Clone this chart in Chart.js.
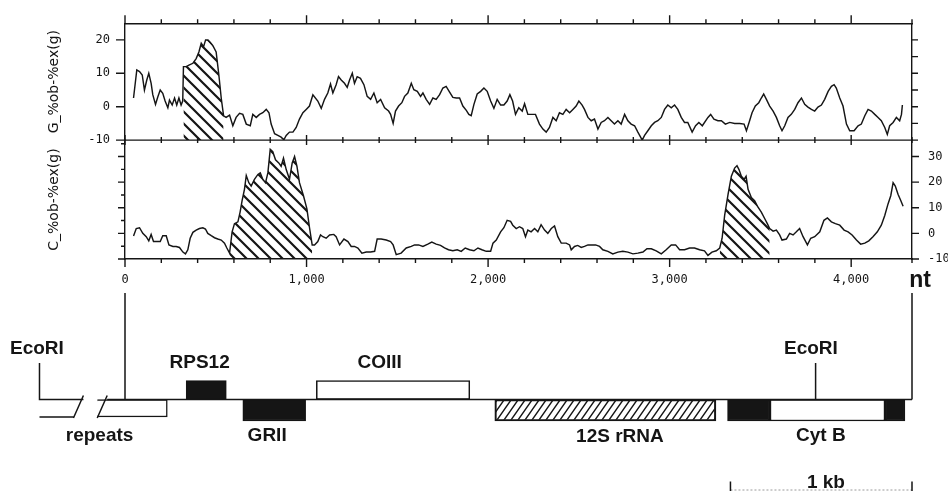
<!DOCTYPE html>
<html>
<head>
<meta charset="utf-8">
<title>Skew profile and gene map</title>
<script src="https://cdn.jsdelivr.net/npm/chart.js@4.4.1/dist/chart.umd.min.js"></script>
<style>
  html, body { margin: 0; padding: 0; background: #fff; }
  #wrap { position: relative; width: 948px; height: 491px; overflow: hidden; background: #fff; }
  #wrap canvas { position: absolute; left: 0; top: 0; }
</style>
</head>
<body>
<div id="wrap">
  <canvas id="profile" width="948" height="300"></canvas>
  <canvas id="map" width="948" height="491"></canvas>
</div>
<script>
const INK = '#151515';
const MONO = "'DejaVu Sans Mono', monospace";
const SANS = "'DejaVu Sans', sans-serif";
const BOLD = "'Liberation Sans', Arial, sans-serif";

// nucleotide axis
const X_MAX = 4335;
const xTickValues = [0, 1000, 2000, 3000, 4000];
const xTickLabels = ['0', '1,000', '2,000', '3,000', '4,000'];

// G_%ob-%ex(g)
const gPos = [
  47, 65, 80, 95, 107, 120, 131, 144, 153, 168,
  181, 194, 208, 221, 236, 245, 260, 273, 285, 297,
  309, 318, 322, 337, 355, 374, 392, 407, 420, 433,
  444, 457, 469, 484, 502, 517, 530, 543, 557, 576,
  594, 612, 631, 649, 668, 690, 704, 723, 741, 759,
  778, 793, 805, 824, 842, 860, 875, 888, 906, 925,
  943, 961, 980, 998, 1016, 1035, 1062, 1081, 1099, 1117,
  1132, 1145, 1163, 1176, 1191, 1209, 1224, 1237, 1252, 1264,
  1279, 1297, 1316, 1334, 1353, 1371, 1389, 1408, 1430, 1452,
  1463, 1477, 1490, 1507, 1525, 1540, 1558, 1577, 1591, 1610,
  1628, 1641, 1659, 1678, 1696, 1714, 1733, 1751, 1769, 1788,
  1806, 1825, 1843, 1861, 1880, 1894, 1907, 1922, 1940, 1959,
  1977, 1995, 2014, 2032, 2050, 2069, 2087, 2105, 2120, 2135,
  2151, 2169, 2188, 2201, 2219, 2243, 2261, 2283, 2302, 2320,
  2338, 2357, 2375, 2393, 2412, 2430, 2449, 2467, 2485, 2500,
  2518, 2531, 2550, 2568, 2586, 2605, 2623, 2641, 2660, 2678,
  2696, 2715, 2733, 2752, 2770, 2788, 2807, 2825, 2849, 2862,
  2880, 2899, 2917, 2935, 2954, 2972, 2990, 3009, 3027, 3045,
  3064, 3082, 3100, 3124, 3143, 3161, 3180, 3211, 3226, 3244,
  3266, 3285, 3307, 3331, 3358, 3386, 3410, 3423, 3435, 3454,
  3472, 3491, 3505, 3518, 3533, 3551, 3570, 3588, 3606, 3619,
  3634, 3652, 3670, 3689, 3707, 3726, 3744, 3762, 3781, 3799,
  3817, 3836, 3854, 3873, 3891, 3906, 3918, 3937, 3955, 3974,
  3992, 4016, 4038, 4056, 4075, 4093, 4111, 4130, 4148, 4166,
  4185, 4199, 4212, 4231, 4249, 4267, 4277, 4282
];
const gVal = [
  2.6, 11, 10.5, 9.5, 5, 8, 10, 7, 3.6, 0.7,
  3, 5, 4, 1.7, -0.3, 2, 0.5, 2.6, 0.5, 2.6,
  0.5, 1.7, 12, 12, 12.5, 13, 14.4, 16.4, 19, 18,
  20, 20, 19.3, 18.3, 16.4, 9.5, 2.6, -2.7, -3.2, -2.5,
  -5.7, -3.2, -2, -2.3, -5.2, -5.7, -2.3, -3.2, -2.3, -1.8,
  -0.8, -1.8, -5.2, -8.1, -8.6, -9.1, -9.9, -8.6, -7.6, -7.6,
  -6.2, -3.7, -1.8, -0.8, 0.2, 3.6, 1.7, -0.5, 2.2, 4.1,
  6.8, 4.1, 6.6, 9, 8, 7, 5.8, 8, 10, 7,
  9, 8.5, 6.6, 3.1, 2.2, 4.1, 1.2, 2.2, -0.3, -1.3,
  -2.3, -5, -1.3, 0.2, 1.2, 3.1, 4.1, 7, 5.1, 4.6,
  3.1, 4.1, 2.2, 0.7, 2.6, 2.2, 3.6, 5.6, 6.1, 4.4,
  2.8, 2.6, 2.6, 0.2, -1.1, -2.3, -2.7, 0.7, 3.8, 4.6,
  5.6, 4.6, 1.7, -0.5, 2.2, 0.5, 0.5, 1.7, 3.6, 1.7,
  -2.3, -0.3, -1.3, 0.9, -2.3, -2.3, -2.3, -5.2, -6.7, -7.6,
  -6.2, -3.2, -4.2, -1.8, -2.3, -0.8, -1.8, -0.8, 0.2, 1.7,
  0.5, -0.8, -3.2, -4.2, -3.7, -6.7, -4.7, -4.2, -3.2, -4.2,
  -5.2, -4.2, -5.2, -2.3, -4.2, -5.2, -5.7, -7.6, -10, -8.6,
  -7.2, -5.7, -4.7, -4.2, -3.2, -0.8, 0.5, -0.3, 0.5, -0.8,
  -3.2, -4.7, -4.7, -7.6, -5.7, -4.7, -5.7, -3.2, -2.3, -3.7,
  -4.2, -4.2, -5.2, -4.7, -5, -5, -5.2, -7.2, -5.2, -1.8,
  0.2, 1.2, 2.6, 3.8, 2.2, 0.2, -1.3, -3.2, -5.7, -7.2,
  -5.7, -3.2, -2.3, -0.8, 1.2, 2.6, 0.7, -0.1, -0.8, -1.3,
  -0.1, 0.5, 2.2, 4.6, 6.1, 6.6, 5.6, 2.6, 0.2, -5.2,
  -7.2, -7.2, -5.7, -5.2, -2.7, -0.8, -1.3, -2.3, -3.2, -4.2,
  -6.2, -8.3, -5.7, -4.7, -3.2, -4.2, -2.3, 0.5
];

// C_%ob-%ex(g)
const cPos = [
  47, 62, 80, 98, 117, 131, 144, 157, 175, 194,
  208, 227, 242, 264, 282, 300, 319, 333, 346, 359,
  374, 392, 410, 429, 443, 456, 475, 493, 511, 530,
  548, 561, 576, 590, 603, 622, 634, 645, 658, 668,
  682, 695, 713, 732, 745, 759, 774, 787, 800, 814,
  829, 847, 860, 873, 888, 906, 921, 934, 947, 961,
  983, 1002, 1017, 1031, 1044, 1062, 1077, 1090, 1108, 1127,
  1150, 1163, 1182, 1206, 1228, 1246, 1264, 1283, 1305, 1329,
  1353, 1375, 1389, 1411, 1439, 1463, 1477, 1494, 1521, 1549,
  1577, 1595, 1617, 1641, 1668, 1690, 1714, 1738, 1760, 1782,
  1806, 1830, 1852, 1874, 1898, 1922, 1944, 1966, 1990, 2014,
  2027, 2045, 2069, 2087, 2105, 2124, 2136, 2155, 2173, 2191,
  2206, 2219, 2237, 2256, 2274, 2292, 2311, 2329, 2348, 2366,
  2384, 2403, 2430, 2449, 2458, 2476, 2494, 2513, 2531, 2550,
  2568, 2592, 2614, 2632, 2660, 2687, 2715, 2742, 2770, 2798,
  2825, 2853, 2875, 2899, 2926, 2954, 2981, 3009, 3033, 3055,
  3082, 3110, 3137, 3165, 3192, 3211, 3233, 3257, 3276, 3289,
  3303, 3322, 3340, 3358, 3371, 3382, 3395, 3410, 3421, 3432,
  3450, 3468, 3487, 3505, 3524, 3538, 3551, 3570, 3588, 3606,
  3619, 3643, 3661, 3680, 3698, 3716, 3735, 3759, 3777, 3799,
  3827, 3850, 3869, 3891, 3913, 3937, 3961, 3983, 4005, 4029,
  4052, 4075, 4097, 4120, 4144, 4166, 4185, 4203, 4218, 4231,
  4243, 4258, 4273, 4286
];
const cVal = [
  -1, 1.9, 2.2, 0, -1.3, -2.9, -0.4, -3.2, -3.2, -3.2,
  -0.9, -0.9, -4.5, -5.1, -5.1, -5.5, -7.3, -8, -6.4, -1.9,
  0.4, 1.3, 1.9, 2.2, 1.7, 0, -0.9, -1.7, -2.2, -2.6,
  -3.8, -5.7, -7.7, 0.6, 3.8, 4.5, 8.3, 12.8, 17.2, 22.6,
  19.8, 18.5, 21.1, 23, 23.6, 21.1, 19.8, 23.6, 32.8, 31.9,
  28.7, 27.5, 26.2, 29.4, 24.9, 21.1, 27.5, 30, 26.2, 19.8,
  14.7, 9.6, 1.9, -4.5, -4.5, -3.2, -0.6, -1.3, -1.9, -0.6,
  -0.4, -1.3, -4.5, -2.2, -3.2, -5.1, -5.1, -5.7, -7.7, -7.3,
  -7.3, -7, -2.2, -2.2, -2.6, -3.2, -4.5, -8.3, -7.7, -5.7,
  -5.1, -4.5, -4.5, -5.1, -4.2, -3.4, -4.2, -4.7, -5.7, -6.4,
  -6.8, -6.4, -7, -5.7, -6.4, -6.8, -5.7, -6.4, -7, -7,
  -3.8, -2.6, 0.6, 2.2, 5.1, 4.7, 3.2, 1.9, 2.6, 1.9,
  -1.3, 1.3, 0.6, 1.9, 0.6, 3.4, 1.3, 0, 1.9, 2.9,
  -1.3, -3.8, -3.8, -4.5, -6.4, -5.1, -4.7, -5.5, -5.1, -4.5,
  -4.5, -4.5, -5.1, -6.4, -7, -8, -7.3, -7, -7.3, -8,
  -7.7, -7.3, -6, -6, -6.8, -8, -6.4, -4.5, -4.5, -6.4,
  -6.4, -5.7, -5.7, -6.4, -6.8, -8.6, -7.3, -6.8, -5.7, -1.9,
  7, 15.3, 22.3, 25.5, 26.4, 24.9, 22.3, 21.1, 22.3, 17.2,
  14, 12.8, 10.2, 8.3, 5.7, 3.8, 1.9, 0.9, 1.3, -0.6,
  -2.6, -2.2, 0, -0.6, 0.6, 1.9, -1.3, -4.5, -1.9, -1.3,
  0.6, 5.1, 6, 4.5, 3.8, 3.2, 1.3, 0.6, -0.6, -2.6,
  -4.2, -3.8, -2.9, -1.3, 0.6, 3.2, 7, 11.5, 14.7, 19.8,
  18.5, 15.3, 12.8, 10.6
];

// shaded stretches (nt)
const gHatch = [[322, 543]];
const cHatch = [[576, 1031], [3276, 3551]];

// gene map (nt); strand 1 = above the line, -1 = below
const geneStart  = [337, 649, 1054, 2037, 3319, 3553, 4186];
const geneEnd    = [558, 995, 1899, 3255, 3553, 4186, 4296];
const geneStrand = [1, -1, 1, -1, -1, -1, -1];
const geneKind   = ['dark', 'dark', 'open', 'rRNA', 'dark', 'open', 'dark'];
const repeatSpan = [-153, 233];
const ecoRISites = [-471, 3804];
const labelText  = ['EcoRI', 'repeats', 'RPS12', 'GRII', 'COIII', '12S rRNA', 'EcoRI', 'Cyt B', '1 kb'];
const labelAt    = [-485, -140, 411, 783, 1403, 2726, 3778, 3833, 3861];
const labelRow   = [5.1, -3.65, 3.65, -3.6, 3.65, -3.7, 5.1, -3.65, -8.3];
const KB = 1000;

// frame of the profile plot
const LEFT_W = 125, RIGHT_W = 36, TOP_H = 19, BOTTOM_H = 41;

function hatchPattern(w, h, width, rising) {
  const c = document.createElement('canvas');
  c.width = w; c.height = h;
  const g = c.getContext('2d');
  g.strokeStyle = INK;
  g.lineWidth = width;
  g.beginPath();
  for (let k = -1; k <= 1; k++) {
    if (rising) { g.moveTo(k * w - w, 2 * h); g.lineTo(k * w + 2 * w, -h); }
    else { g.moveTo(k * w - w, -h); g.lineTo(k * w + 2 * w, 2 * h); }
  }
  g.stroke();
  return g.createPattern(c, 'repeat');
}

const pts = (xs, ys) => xs.map((x, i) => ({ x, y: ys[i] }));
const inRange = (xs, ys, [a, b]) => pts(xs, ys).filter(p => p.x >= a && p.x <= b);
const every10 = v => (v % 10 === 0 ? String(v) : '');

const skewHatch = hatchPattern(12, 12, 2.2, false);
const rrnaHatch = hatchPattern(7, 10, 1.4, true);

const lineStyle = { borderColor: INK, borderWidth: 1.45, pointRadius: 0, tension: 0, fill: false };
const hatchStyle = { borderWidth: 0, borderColor: 'rgba(0,0,0,0)', pointRadius: 0, tension: 0, fill: 'start', backgroundColor: skewHatch };
const frame = { display: true, color: INK, width: 1.4 };
const noGrid = { display: false, drawTicks: false };
const tickFont = { family: MONO, size: 12 };
const titleFont = { family: SANS, size: 14 };

// tick marks: long at labelled values, short in between
const tickMarks = {
  id: 'tickMarks',
  afterDraw(chart) {
    const { ctx, chartArea: a, scales } = chart;
    const mid = scales.yG.bottom;
    ctx.save();
    ctx.strokeStyle = INK;
    ctx.lineWidth = 1.4;
    ctx.beginPath();
    ctx.moveTo(a.left, mid);
    ctx.lineTo(a.right, mid);
    scales.x.ticks.forEach(t => {
      const px = scales.x.getPixelForValue(t.value);
      const major = t.value % 1000 === 0;
      const len = major ? 8 : 4;
      ctx.moveTo(px, a.top); ctx.lineTo(px, a.top - len);
      ctx.moveTo(px, mid - (major ? 5 : 3)); ctx.lineTo(px, mid + (major ? 5 : 3));
      ctx.moveTo(px, a.bottom); ctx.lineTo(px, a.bottom + len);
    });
    const yTicks = (scale, x, dir, majorLen, minorLen) => {
      scale.ticks.forEach(t => {
        if (t.value >= scale.max) return;
        const py = scale.getPixelForValue(t.value);
        const len = t.value % 10 === 0 ? majorLen : minorLen;
        ctx.moveTo(x, py); ctx.lineTo(x + dir * len, py);
      });
    };
    yTicks(scales.yG, a.left, -1, 9, 5);
    yTicks(scales.yC, a.left, -1, 7, 4);
    yTicks(scales.yGr, a.right, 1, 6, 6);
    yTicks(scales.yCr, a.right, 1, 7, 5);
    ctx.stroke();
    ctx.restore();
  }
};

new Chart(document.getElementById('profile'), {
  type: 'line',
  data: {
    datasets: [
      { ...lineStyle, label: 'G', data: pts(gPos, gVal), xAxisID: 'x', yAxisID: 'yG' },
      { ...lineStyle, label: 'C', data: pts(cPos, cVal), xAxisID: 'x', yAxisID: 'yC' },
      ...gHatch.map(r => ({ ...hatchStyle, data: inRange(gPos, gVal, r), xAxisID: 'x', yAxisID: 'yG' })),
      ...cHatch.map(r => ({ ...hatchStyle, data: inRange(cPos, cVal, r), xAxisID: 'x', yAxisID: 'yC' }))
    ]
  },
  options: {
    responsive: false,
    animation: false,
    events: [],
    layout: { padding: 0 },
    plugins: { legend: { display: false }, tooltip: { enabled: false } },
    scales: {
      x: {
        type: 'linear', position: 'bottom', min: 0, max: X_MAX,
        afterFit: s => { s.height = BOTTOM_H; },
        grid: noGrid, border: frame,
        ticks: {
          stepSize: 200, autoSkip: false, maxRotation: 0, padding: 14, color: INK, font: tickFont,
          callback: v => xTickLabels[xTickValues.indexOf(v)] ?? ''
        }
      },
      xTop: {
        type: 'linear', position: 'top', min: 0, max: X_MAX,
        afterFit: s => { s.height = TOP_H; },
        grid: noGrid, border: frame, ticks: { display: false, stepSize: 200 }
      },
      yC: {
        type: 'linear', position: 'left', stack: 'panels', stackWeight: 121, min: -10, max: 36.4,
        afterFit: s => { s.width = LEFT_W; },
        grid: noGrid, border: frame,
        ticks: { display: false, stepSize: 5, includeBounds: false },
        title: { display: true, text: 'C_%ob-%ex(g)', color: INK, font: titleFont, padding: { top: 46, bottom: 0 } }
      },
      yG: {
        type: 'linear', position: 'left', stack: 'panels', stackWeight: 119, min: -10, max: 25,
        afterFit: s => { s.width = LEFT_W; },
        grid: noGrid, border: frame,
        ticks: { stepSize: 5, includeBounds: false, padding: 15, color: INK, font: tickFont, callback: every10 },
        title: { display: true, text: 'G_%ob-%ex(g)', color: INK, font: titleFont, padding: { top: 46, bottom: 0 } }
      },
      yGr: {
        type: 'linear', position: 'right', stack: 'right', stackWeight: 119, min: -10, max: 25,
        afterFit: s => { s.width = RIGHT_W; },
        grid: noGrid, border: frame,
        ticks: { display: false, stepSize: 5, includeBounds: false }
      },
      yCr: {
        type: 'linear', position: 'right', stack: 'right', stackWeight: 121, min: -10, max: 36.4,
        afterFit: s => { s.width = RIGHT_W; },
        grid: noGrid, border: frame,
        ticks: { stepSize: 5, includeBounds: false, padding: 16, color: INK, font: tickFont, callback: every10 }
      }
    }
  },
  plugins: [tickMarks]
});

// gene map: same nt scale, stretched over the whole page
const ntPerPx = X_MAX / (948 - LEFT_W - RIGHT_W);
const MAP_MIN = -LEFT_W * ntPerPx;
const MAP_MAX = X_MAX + RIGHT_W * ntPerPx;
const BASE_Y = 399.5;               // strand line, px from top
const ROW = 10;                     // px per map row unit
const ABOVE = 0.95, BELOW = -1.075;

const breakTop = [-229, -98];
const breakDrop = -55;
const mapSegments = [
  [[ecoRISites[0], 3.65], [ecoRISites[0], 0], [breakTop[0], 0]],
  [[breakTop[0], 0.4], [breakTop[0] + breakDrop, -1.85]],
  [[ecoRISites[0], -1.75], [breakTop[0] + breakDrop, -1.75]],
  [[breakTop[1], 0.4], [breakTop[1] + breakDrop, -1.85]],
  [[breakTop[1], 0], [X_MAX, 0]],
  [[0, 10.65], [0, 0]],
  [[X_MAX, 10.65], [X_MAX, 0]],
  [[ecoRISites[1], 3.65], [ecoRISites[1], 0]],
  [[X_MAX - KB, -8.2], [X_MAX - KB, -9.2]],
  [[X_MAX, -8.2], [X_MAX, -9.2]]
];
const segPoints = mapSegments.flatMap(s => [...s.map(([x, y]) => ({ x, y })), { x: s[s.length - 1][0], y: null }]);

const fillFor = k => (k === 'dark' ? INK : k === 'rRNA' ? rrnaHatch : '#fff');
const onStrand = s => geneStart.map((_, i) => i).filter(i => geneStrand[i] === s);
const boxStyle = { type: 'bar', indexAxis: 'y', grouped: false, borderColor: INK, borderWidth: 1.5, borderSkipped: false };

const mapText = {
  id: 'mapText',
  afterDraw(chart) {
    const { ctx, scales: { x, y } } = chart;
    ctx.save();
    ctx.fillStyle = INK;
    ctx.textAlign = 'center';
    ctx.textBaseline = 'middle';
    ctx.font = `bold 19px ${BOLD}`;
    labelText.forEach((t, i) => ctx.fillText(t, x.getPixelForValue(labelAt[i]), y.getPixelForValue(labelRow[i])));
    ctx.font = `bold 23px ${BOLD}`;
    ctx.fillText('nt', x.getPixelForValue(X_MAX + 45), y.getPixelForValue(11.85));
    ctx.restore();
  }
};

new Chart(document.getElementById('map'), {
  type: 'bar',
  data: {
    datasets: [
      { type: 'line', data: segPoints, borderColor: INK, borderWidth: 1.5, pointRadius: 0, tension: 0, spanGaps: false, fill: false },
      { type: 'line', data: [{ x: X_MAX - KB, y: -9.05 }, { x: X_MAX, y: -9.05 }], borderColor: '#9a9a9a', borderWidth: 1, pointRadius: 0, borderDash: [2, 2], fill: false },
      { ...boxStyle, barThickness: 19,
        data: onStrand(1).map(i => ({ y: ABOVE, x: [geneStart[i], geneEnd[i]] })),
        backgroundColor: onStrand(1).map(i => fillFor(geneKind[i])) },
      { ...boxStyle, barThickness: 21.5,
        data: onStrand(-1).map(i => ({ y: BELOW, x: [geneStart[i], geneEnd[i]] })),
        backgroundColor: onStrand(-1).map(i => fillFor(geneKind[i])) },
      { ...boxStyle, barThickness: 17.5, borderSkipped: 'left',
        data: [{ y: -0.875, x: repeatSpan }], backgroundColor: '#fff' }
    ]
  },
  options: {
    responsive: false,
    animation: false,
    events: [],
    layout: { padding: 0 },
    plugins: { legend: { display: false }, tooltip: { enabled: false } },
    scales: {
      x: { type: 'linear', display: false, offset: false, min: MAP_MIN, max: MAP_MAX },
      y: { type: 'linear', display: false, offset: false, beginAtZero: false,
           min: -(491 - BASE_Y) / ROW, max: BASE_Y / ROW }
    }
  },
  plugins: [mapText]
});
</script>
</body>
</html>
